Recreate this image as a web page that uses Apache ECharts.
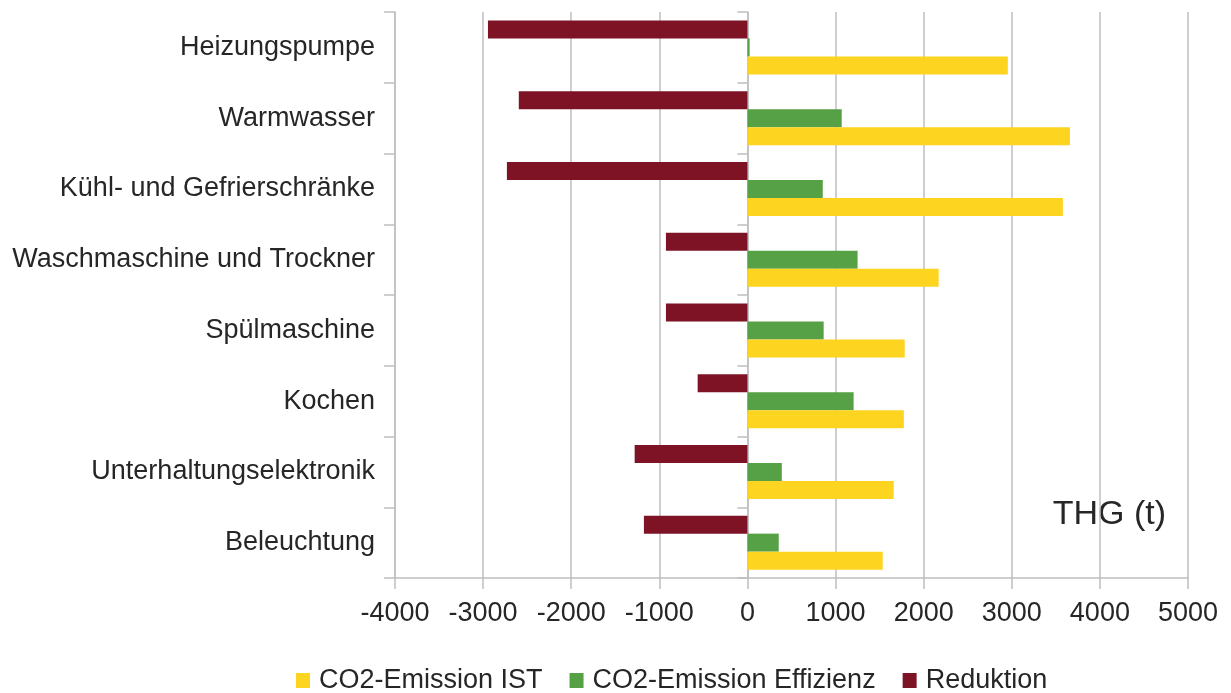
<!DOCTYPE html>
<html>
<head>
<meta charset="utf-8">
<script src="https://cdn.jsdelivr.net/npm/echarts@6/dist/echarts.min.js"></script>
<style>
  html, body { margin: 0; padding: 0; background: #fff; }
  #container { width: 1231px; height: 693px; }
</style>
</head>
<body>
<div id="container"></div>
<script>
let chart = echarts.init(document.getElementById('container'));

// data, top to bottom
var categories = ['Heizungspumpe', 'Warmwasser', 'Kühl- und Gefrierschränke', 'Waschmaschine und Trockner',
    'Spülmaschine', 'Kochen', 'Unterhaltungselektronik', 'Beleuchtung'];
var emissionIst = [2955, 3660, 3580, 2170, 1785, 1775, 1660, 1535];
var emissionEffizienz = [25, 1070, 855, 1250, 865, 1205, 390, 355];
var reduktion = [-2945, -2595, -2730, -925, -925, -565, -1280, -1175];
var xTicks = { min: -4000, max: 5000, interval: 1000 };

var textColor = '#262626';
var gridColor = '#bfbfbf';
var font = 'Liberation Sans, Arial, sans-serif';

let option = {
    textStyle: { fontFamily: font },
    animation: false,
    legend: {
        data: ['CO2-Emission IST', 'CO2-Emission Effizienz', 'Reduktion'],
        left: 291,
        top: 662,
        icon: 'rect',
        itemWidth: 14,
        itemHeight: 15,
        itemGap: 27,
        textStyle: {
            fontSize: 27,
            color: textColor,
            fontFamily: font,
            padding: [0, 0, 0, 4],
        },
    },
    grid: {
        left: 395,
        right: 43,
        top: 12,
        bottom: 115,
    },
    xAxis: {
        type: 'value',
        min: xTicks.min,
        max: xTicks.max,
        interval: xTicks.interval,
        axisLine: { show: true, lineStyle: { color: gridColor, width: 1.5 } },
        axisTick: { show: true, length: 11, lineStyle: { color: gridColor, width: 1.5 } },
        axisLabel: {
            fontSize: 27, color: textColor, margin: 22, fontFamily: font,
            formatter: value => String(value),
        },
        splitLine: { show: true, lineStyle: { color: gridColor, width: 1.5 } },
    },
    yAxis: [{
        type: 'category',
        inverse: true,
        data: categories,
        axisLine: { show: true, onZero: false, lineStyle: { color: gridColor, width: 1.5 } },
        axisTick: { show: true, length: 11, lineStyle: { color: gridColor, width: 1.5 } },
        axisLabel: { fontSize: 27, color: textColor, margin: 20, fontFamily: font },
        splitLine: { show: false },
    }, {
        // ticks along the zero line
        type: 'category',
        inverse: true,
        position: 'left',
        data: categories,
        axisLine: { show: true, onZero: true, lineStyle: { color: gridColor, width: 1.5 } },
        axisTick: { show: true, length: 10, lineStyle: { color: gridColor, width: 1.5 } },
        axisLabel: { show: false },
        splitLine: { show: false },
    }],
    graphic: [{
        type: 'text',
        right: 65,
        top: 498,
        style: {
            text: 'THG (t)',
            fontSize: 34,
            fontFamily: font,
            fill: textColor,
        },
    }],
    series: [{
        name: 'Reduktion',
        type: 'bar',
        yAxisIndex: 0,
        barWidth: 18,
        barGap: '0%',
        itemStyle: { color: '#7e1326' },
        data: reduktion,
    }, {
        name: 'CO2-Emission Effizienz',
        type: 'bar',
        yAxisIndex: 0,
        barWidth: 18,
        barGap: '0%',
        itemStyle: { color: '#56a045' },
        data: emissionEffizienz,
    }, {
        name: 'CO2-Emission IST',
        type: 'bar',
        yAxisIndex: 0,
        barWidth: 18,
        barGap: '0%',
        itemStyle: { color: '#fdd41f' },
        data: emissionIst,
    }],
};

chart.setOption(option);
</script>
</body>
</html>
